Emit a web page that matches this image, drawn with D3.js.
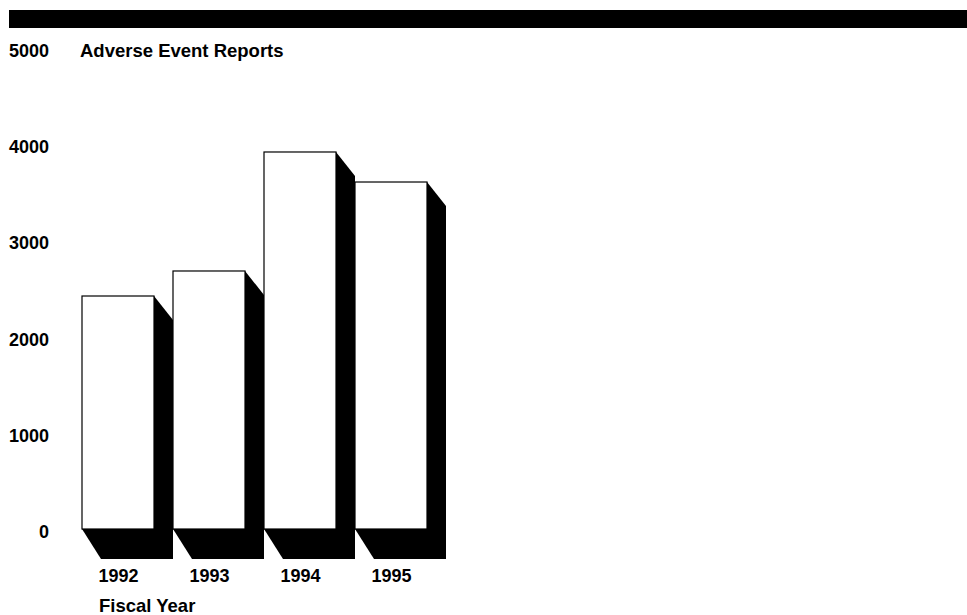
<!DOCTYPE html>
<html>
<head>
<meta charset="utf-8">
<script src="https://cdn.jsdelivr.net/npm/d3@7"></script>
<style>
  body { margin: 0; background: #fff; }
  text { font-family: "Liberation Sans", Arial, sans-serif; font-weight: bold; fill: #000; }
</style>
</head>
<body>
<svg id="chart" width="967" height="615"></svg>
<script>
const years = ["1992", "1993", "1994", "1995"]
const reports = [2422, 2682, 3919, 3607]
const ticks = [0, 1000, 2000, 3000, 4000, 5000]

const svg = d3.select("#chart")

// black band across the top
svg.append("rect")
    .attr("x", 9).attr("y", 10)
    .attr("width", 958).attr("height", 18)
    .attr("fill", "#000")

const y = d3.scaleLinear().domain([0, 5000]).range([529, 48])
const x = d3.scaleBand().domain(years).range([82, 427]).paddingInner(19 / 91).paddingOuter(0)

const dx = 19, dyTop = 24, dyBot = 30

// y tick labels
svg.selectAll(".ytick")
    .data(ticks)
    .enter()
    .append("text")
    .attr("class", "ytick")
    .attr("x", 49)
    .attr("y", d => y(d) + 9)
    .attr("text-anchor", "end")
    .attr("font-size", 18)
    .text(d => d)

svg.append("text")
    .attr("x", 80).attr("y", 57)
    .attr("font-size", 18.5)
    .text("Adverse Event Reports")

const bars = svg.selectAll(".bar")
    .data(years.map((yr, i) => ({ yr: yr, v: reports[i] })))
    .enter()
    .append("g")
    .attr("class", "bar")

// shadow
bars.append("path")
    .attr("fill", "#000")
    .attr("d", d => {
        const l = x(d.yr), r = x(d.yr) + x.bandwidth()
        const t = y(d.v), b = y(0)
        return `M${r},${t} L${r + dx},${t + dyTop} L${r + dx},${b + dyBot} L${l + dx},${b + dyBot} L${l},${b} Z`
    })

// front face
bars.append("rect")
    .attr("x", d => x(d.yr))
    .attr("y", d => y(d.v))
    .attr("width", x.bandwidth())
    .attr("height", d => y(0) - y(d.v))
    .attr("fill", "#fff")
    .attr("stroke", "#000")
    .attr("stroke-width", 1.2)

svg.selectAll(".xlabel")
    .data(years)
    .enter()
    .append("text")
    .attr("class", "xlabel")
    .attr("x", d => x(d) + x.bandwidth() / 2 + 0.5)
    .attr("y", 582)
    .attr("text-anchor", "middle")
    .attr("font-size", 18)
    .text(d => d)

svg.append("text")
    .attr("x", 99).attr("y", 612)
    .attr("font-size", 18.5)
    .text("Fiscal Year")
</script>
</body>
</html>
